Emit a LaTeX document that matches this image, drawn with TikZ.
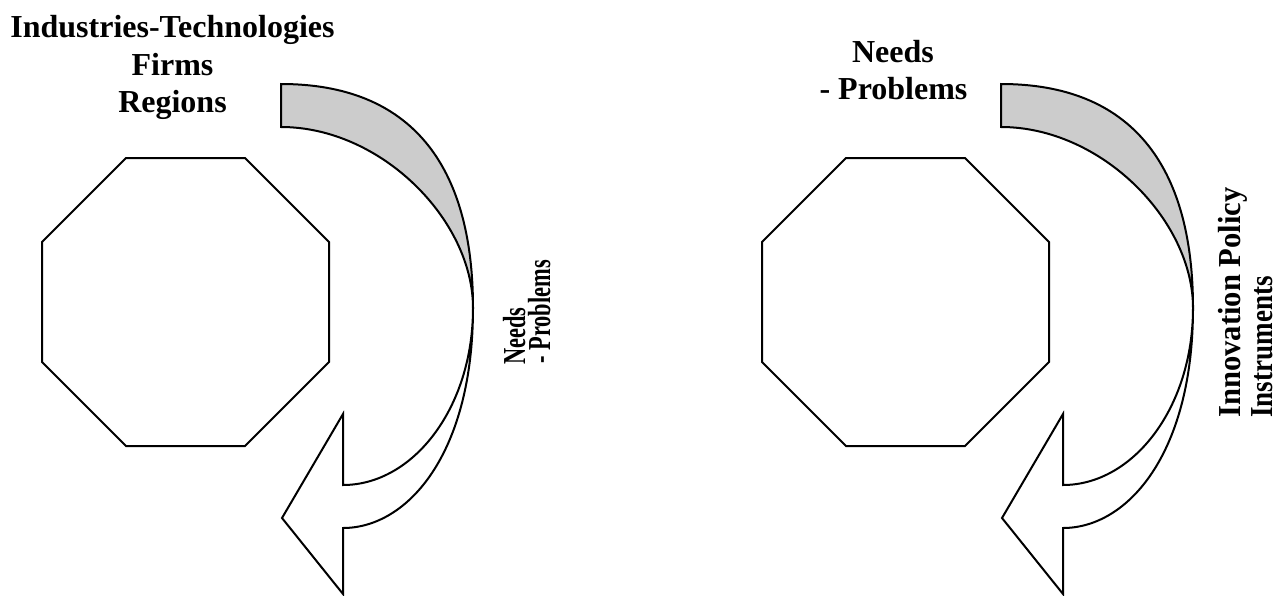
\documentclass[tikz,border=0pt]{standalone}
\usepackage{fontspec}
\setmainfont{Liberation Serif}
\definecolor{bandgray}{RGB}{204,204,204}
\begin{document}
\begin{tikzpicture}[x=0.5pt,y=-0.5pt,
  shapeline/.style={draw=black,line width=1pt,line join=miter},
  lbl/.style={font=\fontsize{16}{18.5}\selectfont\bfseries, inner sep=0pt, anchor=base},
  rlbl/.style={font=\fontsize{16}{18.5}\selectfont\bfseries, inner sep=0pt, rotate=90, anchor=base west},
  loopfig/.pic={
    \draw[shapeline] (126,158) -- (245,158) -- (329,242) -- (329,362) -- (245,446) -- (126,446) -- (42,362) -- (42,242) -- cycle;
    \filldraw[shapeline, fill=bandgray] (281,84) .. controls (411,84) and (473,165) .. (473,308)
       .. controls (473,220) and (381,127) .. (281,127) -- cycle;
    \filldraw[shapeline, fill=white] (473,308) .. controls (473,408) and (413,485) .. (343,485)
       -- (343,414) -- (282,518) -- (343,594) -- (343,528)
       .. controls (408,528) and (473,453) .. (473,308) -- cycle;
  }]
\useasboundingbox (0,0) rectangle (1281,595);
\pic at (0,0) {loopfig};
\pic at (720,0) {loopfig};
% left titles
\node[lbl] (l1) at (172.5,37) {Industries-Technologies};
\node[lbl] (l2) at (172.5,75) {Firms};
\node[lbl] (l3) at (172.5,112) {Regions};
\node[rlbl] (lr1) at (525,365) {\scalebox{0.70}[1]{Needs}};
\node[rlbl] (lr2) at (550,364) {\scalebox{0.70}[1]{- Problems}};
% right titles
\node[lbl] (r1) at (893,62) {Needs};
\node[lbl] (r2) at (893.5,99) {- Problems};
\node[rlbl] (rr1) at (1240,418) {\scalebox{0.955}[1]{Innovation Policy}};
\node[rlbl] (rr2) at (1272,418) {\scalebox{0.845}[1]{Instruments}};
\end{tikzpicture}
\end{document}
